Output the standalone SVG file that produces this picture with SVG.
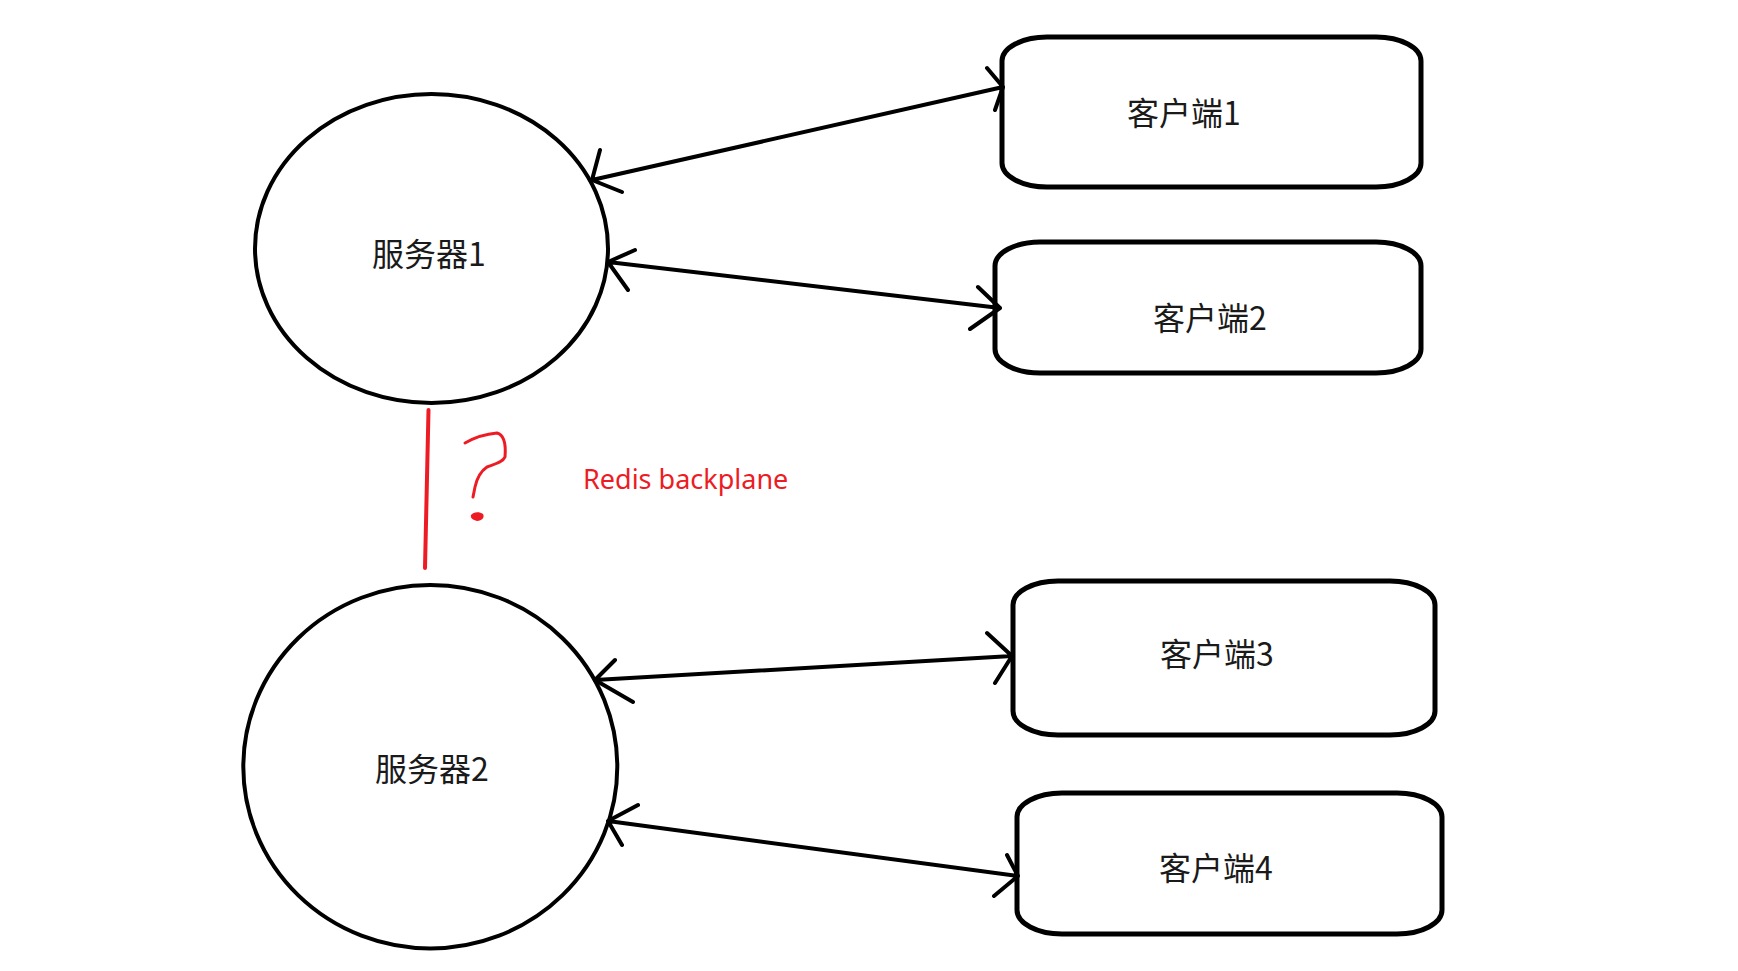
<svg xmlns="http://www.w3.org/2000/svg" width="1738" height="971" viewBox="0 0 1738 971">
<style>
.node{fill:#fff;stroke:#000;stroke-width:4}
.box{fill:#fff;stroke:#000;stroke-width:5}
.lbl{font-family:"Noto Sans CJK SC","Noto Sans",sans-serif;font-size:32px;fill:#1a1a1a;text-anchor:middle}
.conn{fill:none;stroke:#000;stroke-width:4;stroke-linecap:round;stroke-linejoin:round}
.red{fill:none;stroke:#ED1C24;stroke-linecap:round;stroke-linejoin:round}
</style>
<rect width="1738" height="971" fill="#fff"/>
<g id="server1">
<ellipse class="node" cx="431.5" cy="248.5" rx="176.5" ry="154.5"/>
<text class="lbl" x="429" y="266">服务器1</text>
</g>
<g id="server2">
<ellipse class="node" cx="430.3" cy="766.7" rx="187" ry="181.7"/>
<text class="lbl" x="432" y="781">服务器2</text>
</g>
<g id="client1">
<rect class="box" x="1002" y="37" width="419" height="150" rx="45" ry="24"/>
<text class="lbl" x="1184" y="125">客户端1</text>
</g>
<g id="client2">
<rect class="box" x="995" y="242" width="426" height="131" rx="45" ry="24"/>
<text class="lbl" x="1210" y="330">客户端2</text>
</g>
<g id="client3">
<rect class="box" x="1013" y="581" width="422" height="154" rx="45" ry="24"/>
<text class="lbl" x="1217" y="666">客户端3</text>
</g>
<g id="client4">
<rect class="box" x="1017" y="793" width="425" height="141" rx="45" ry="24"/>
<text class="lbl" x="1216" y="880">客户端4</text>
</g>
<g id="connectors">
<path class="conn" d="M592,180 L1003,87 M600,150 L592,180 L622,192 M987,68 L1003,87 L995,110"/>
<path class="conn" d="M608,262 L1000,308 M635,250 L608,262 L628,290 M978,287 L1000,308 L970,329"/>
<path class="conn" d="M595,680 L1012,656 M615,660 L595,680 L633,702 M987,633 L1012,656 L995,683"/>
<path class="conn" d="M608,821 L1018,876 M638,805 L608,821 L622,845 M1007,855 L1018,876 L994,896"/>
<path class="red" stroke-width="4" d="M428.5,410 L425,568"/>
</g>
<g id="question">
<path class="red" stroke-width="3" d="M465,443 C472,439 485,434 497,433 C505,435 506,445 505,457 C503,462 495,464 487,467 C481,471 477,478 475,487 L473,497"/>
<path fill="#ED1C24" d="M471,515 C473,512 479,511 483,514 C485,517 482,521 477,521 C473,520 470,518 471,515 Z"/>
</g>
<text x="583" y="489" font-family="'Noto Sans','Open Sans',sans-serif" font-size="27" fill="#ED1C24">Redis backplane</text>
</svg>
